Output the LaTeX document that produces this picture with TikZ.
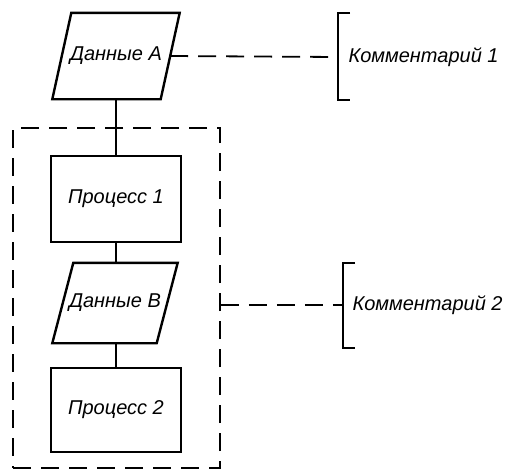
\documentclass[tikz,border=0pt]{standalone}
\usepackage{fontspec}
\setmainfont{Liberation Sans}
\begin{document}
\begin{tikzpicture}[x=1pt,y=-1pt,
  txt/.style={font=\itshape\fontsize{20}{22}\selectfont},
  proc/.style={draw,line width=2.4pt,minimum width=130pt,minimum height=86pt,inner sep=0pt,txt},
  data/.style={inner sep=0pt,txt},
  shp/.style={line width=2.4pt,line join=miter},
  conn/.style={line width=1.8pt},
  dashln/.style={line width=1.8pt,dash pattern=on 18pt off 10pt},
  brack/.style={line width=2.4pt}]
\useasboundingbox (0,0) rectangle (507,471);
\node[data,minimum width=127pt,minimum height=86pt] (A) at (116,56) {Данные A};
\draw[shp] ([xshift=19pt]A.north west) -- (A.north east) -- ([xshift=-19pt]A.south east) -- (A.south west) -- cycle;
\node[proc] (P1) at (116,199) {Процесс 1};
\node[data,minimum width=125pt,minimum height=80pt] (B) at (115,303) {Данные B};
\draw[shp] ([xshift=21pt]B.north west) -- (B.north east) -- ([xshift=-21pt]B.south east) -- (B.south west) -- cycle;
\node[proc,minimum height=84pt] (P2) at (116,410) {Процесс 2};
\draw[conn] (A.south) -- (P1.north);
\draw[conn] (P1.south) -- (P1.south |- B.north);
\draw[conn] (P2.north |- B.south) -- (P2.north);
\node[draw,dashln,minimum width=207pt,minimum height=340pt,inner sep=0pt] (G) at (116.5,298) {};
% comment 1
\coordinate (b1) at (338,57);
\node[txt,anchor=west] (C1) at (345,57) {Комментарий 1};
\draw[brack] ([shift={(12,-44)}]b1) -- ([shift={(0,-44)}]b1) -- ([shift={(0,43)}]b1) -- ([shift={(12,43)}]b1);
\draw[dashln] ([xshift=-9.5pt]A.east) -- (b1);
% comment 2
\coordinate (b2) at (343,305);
\node[txt,anchor=west] (C2) at (349,305) {Комментарий 2};
\draw[brack] ([shift={(12,-42)}]b2) -- ([shift={(0,-42)}]b2) -- ([shift={(0,43)}]b2) -- ([shift={(12,43)}]b2);
\draw[dashln] (G.east |- b2) -- (b2);
\end{tikzpicture}
\end{document}
